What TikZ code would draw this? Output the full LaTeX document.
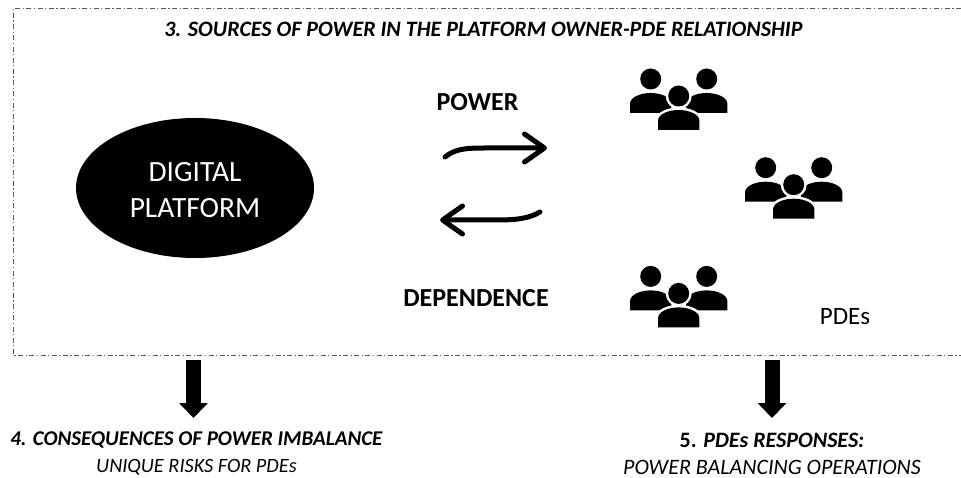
\documentclass[tikz,border=0pt]{standalone}
\usepackage{fontspec}
\setmainfont{Carlito}
\usetikzlibrary{positioning,arrows.meta,shapes.geometric}
\tikzstyle{frameline} = [
line width=1pt,
draw=black!65,
dash pattern=on 5pt off 2.5pt on 1.2pt off 2.5pt
]
\tikzstyle{platform} = [
ellipse,
fill=black,
text=white,
inner sep=0pt,
minimum width=238pt,
minimum height=140pt,
font=\fontsize{29.4}{36}\selectfont
]
\tikzstyle{heading} = [
inner sep=0pt,
font=\fontsize{22}{27}\selectfont
]
\tikzstyle{flowlabel} = [
font=\fontsize{26}{30}\selectfont\bfseries
]
\tikzstyle{swoop} = [
line width=5pt,
line cap=round,
-{Straight Barb[width=28pt,length=20pt,round]}
]
\tikzstyle{blockarrow} = [
line width=15pt,
-{Triangle[width=28pt,length=15pt]}
]
\tikzset{
	pics/person/.style={code={
		\fill[#1] (0,-34) circle (10.5);
		\fill[#1] (-20.7,0) -- (-20.7,-9) .. controls (-20.7,-16) and (-10,-20) .. (0,-20)
			.. controls (10,-20) and (20.7,-16) .. (20.7,-9) -- (20.7,0) -- cycle;
	}},
	pics/pdegroup/.style={code={
		\pic at (-28,-17) {person={black}};
		\pic at (28,-17) {person={black}};
		\fill[white] (0,-34) circle (13);
		\draw[white,line width=5pt] (-20.7,0) -- (-20.7,-9) .. controls (-20.7,-16) and (-10,-20) .. (0,-20)
			.. controls (10,-20) and (20.7,-16) .. (20.7,-9) -- (20.7,0);
		\pic at (0,0) {person={black}};
	}}
}
\begin{document}
\begin{tikzpicture}[
	x=1pt,
	y=-1pt,
	align=center
	]
	\useasboundingbox (0,0) rectangle (961,478);
	
	\draw[frameline] (961,9) -- (13,9) -- (13,355) -- (961,355);
	
	\node[heading] (sources) at (483.5,29) {\textbf{\textit{3. SOURCES OF POWER IN THE PLATFORM OWNER-PDE RELATIONSHIP}}};
	
	\node[platform] (plat) at (195,188) {};
	\node[text=white,font=\fontsize{29.4}{36}\selectfont] (platname) at (195,192.5) {\strut DIGITAL\\\strut PLATFORM};
	
	\node[flowlabel] (power) at (477.5,102) {POWER};
	\node[flowlabel] (depend) at (476,298) {DEPENDENCE};
	\node[heading,font=\fontsize{25}{30}\selectfont] (pdes) at (845,317) {PDEs};
	
	\pic (pde1) at (678.7,130) {pdegroup};
	\pic (pde2) at (793.7,218.7) {pdegroup};
	\pic (pde3) at (678.7,327.4) {pdegroup};
	
	\coordinate (pa) at (445,157);
	\coordinate (pb) at (547,148);
	\coordinate (da) at (540,212);
	\coordinate (db) at (440,220);
	\draw[swoop] (pa) .. controls (455,149) and (465,148) .. (485,148) -- (pb);
	\draw[swoop] (da) .. controls (528,219) and (515,220) .. (495,220) -- (db);
	
	\node[heading] (conseq) at (196.5,453.5) {{\fontsize{21}{27}\selectfont\textbf{\textit{4. CONSEQUENCES OF POWER IMBALANCE}}}\\{\fontsize{20.3}{27}\selectfont\textit{UNIQUE RISKS FOR PDEs}}};
	\node[heading] (resp) at (772,453.5) {\textbf{5. \textit{PDEs RESPONSES:}}\\\textit{POWER BALANCING OPERATIONS}};
	
	\coordinate (c1) at (193.5,360);
	\coordinate (c2) at (193.5,418);
	\coordinate (r1) at (772,360);
	\coordinate (r2) at (772,418);
	\draw[blockarrow] (c1) -- (c2);
	\draw[blockarrow] (r1) -- (r2);
\end{tikzpicture}
\end{document}
